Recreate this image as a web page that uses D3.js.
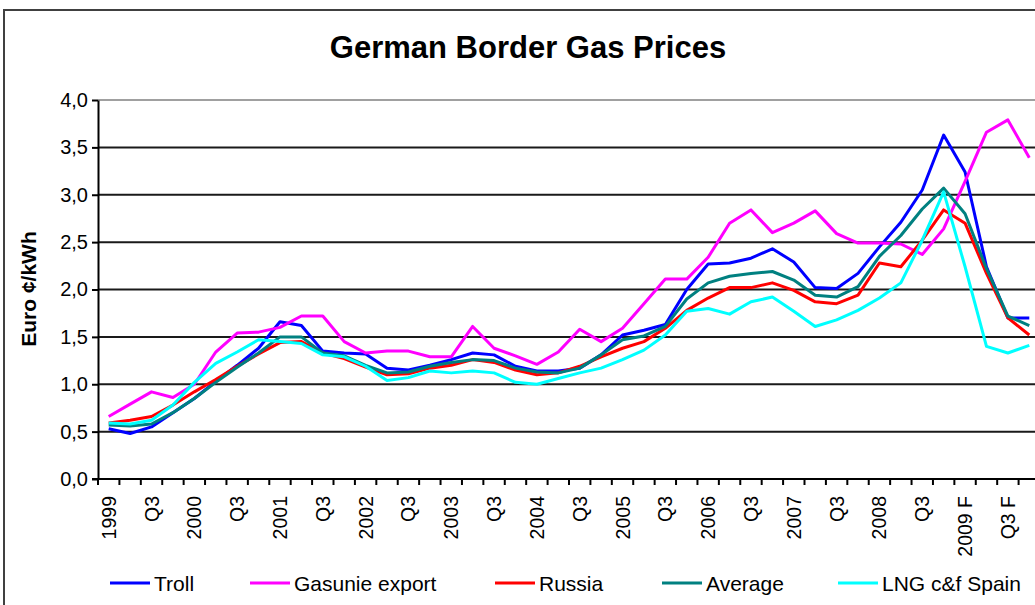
<!DOCTYPE html>
<html>
<head>
<meta charset="utf-8">
<script src="https://cdn.jsdelivr.net/npm/d3@7"></script>
<style>
  body { margin: 0; background: #fff; }
  svg { display: block; font-family: Arial, "Liberation Sans", sans-serif; }
</style>
</head>
<body>
<div id="chart"></div>
<script>
// quarters 1999 Q1 .. 2009 Q4 (F = forecast)
var quarters = [];
for (var yr = 1999; yr <= 2009; yr++) {
  for (var q = 1; q <= 4; q++) quarters.push(yr + " Q" + q);
}
// labels shown on every second quarter
var tickLabels = ["1999", "Q3", "2000", "Q3", "2001", "Q3", "2002", "Q3", "2003", "Q3", "2004", "Q3",
                  "2005", "Q3", "2006", "Q3", "2007", "Q3", "2008", "Q3", "2009 F", "Q3 F"];

var yTicks = [0, 0.5, 1, 1.5, 2, 2.5, 3, 3.5, 4];

var troll = [0.53, 0.48, 0.55, 0.70, 0.85, 1.03, 1.20, 1.38, 1.66, 1.62, 1.35, 1.33, 1.32, 1.17, 1.15, 1.20,
             1.26, 1.33, 1.31, 1.19, 1.14, 1.14, 1.17, 1.31, 1.52, 1.57, 1.63, 2.00, 2.27, 2.28, 2.33, 2.43,
             2.29, 2.02, 2.01, 2.17, 2.45, 2.71, 3.05, 3.63, 3.24, 2.24, 1.70, 1.70];
var gasunie = [0.66, 0.79, 0.92, 0.86, 1.00, 1.34, 1.54, 1.55, 1.60, 1.72, 1.72, 1.45, 1.33, 1.35, 1.35, 1.29,
               1.29, 1.61, 1.38, 1.30, 1.21, 1.34, 1.58, 1.45, 1.59, 1.85, 2.11, 2.11, 2.34, 2.70, 2.84, 2.60,
               2.70, 2.83, 2.59, 2.49, 2.49, 2.48, 2.37, 2.64, 3.14, 3.66, 3.79, 3.39];
var russia = [0.59, 0.62, 0.66, 0.78, 0.92, 1.05, 1.19, 1.32, 1.44, 1.45, 1.33, 1.27, 1.18, 1.10, 1.11, 1.17,
              1.20, 1.26, 1.23, 1.15, 1.10, 1.12, 1.19, 1.29, 1.38, 1.45, 1.59, 1.78, 1.91, 2.02, 2.02, 2.07,
              1.99, 1.87, 1.85, 1.94, 2.28, 2.24, 2.52, 2.84, 2.70, 2.17, 1.70, 1.52];
var average = [0.57, 0.56, 0.58, 0.70, 0.85, 1.02, 1.18, 1.33, 1.50, 1.50, 1.33, 1.30, 1.20, 1.12, 1.13, 1.19,
               1.23, 1.26, 1.25, 1.17, 1.13, 1.12, 1.17, 1.31, 1.47, 1.51, 1.61, 1.90, 2.07, 2.14, 2.17, 2.19,
               2.10, 1.94, 1.92, 2.03, 2.35, 2.57, 2.85, 3.07, 2.80, 2.22, 1.72, 1.62];
var lngSpain = [0.59, 0.58, 0.62, 0.78, 1.02, 1.22, 1.34, 1.47, 1.45, 1.43, 1.31, 1.29, 1.19, 1.04, 1.07, 1.14,
                1.12, 1.14, 1.12, 1.02, 1.00, 1.06, 1.12, 1.17, 1.26, 1.36, 1.52, 1.77, 1.80, 1.74, 1.87, 1.92,
                1.77, 1.61, 1.68, 1.78, 1.91, 2.07, 2.52, 3.03, 2.24, 1.40, 1.33, 1.41];

var seriesNames = ["Troll", "Gasunie export", "Russia", "Average", "LNG c&f Spain"];
var seriesColors = ["#0000ff", "#ff00ff", "#ff0000", "#008080", "#00ffff"];
var seriesValues = [troll, gasunie, russia, average, lngSpain];

var W = 1035, H = 605;
var plot = {left: 98, right: 1040, top: 100, bottom: 479};

var svg = d3.select("#chart").append("svg")
    .attr("width", W)
    .attr("height", H);

// chart frame (cropped on the right / bottom)
svg.append("path")
    .attr("d", "M4,1000 L4,10 L1100,10")
    .attr("fill", "none")
    .attr("stroke", "#404040")
    .attr("stroke-width", 2);

var x = d3.scaleBand()
    .domain(quarters)
    .range([plot.left, plot.right])
    .padding(0);

var y = d3.scaleLinear()
    .domain([0, 4])
    .range([plot.bottom, plot.top]);

// gridlines
svg.append("g")
  .selectAll("line")
  .data(yTicks.filter(d => d > 0))
  .enter().append("line")
    .attr("x1", plot.left)
    .attr("x2", plot.right)
    .attr("y1", d => y(d))
    .attr("y2", d => y(d))
    .attr("stroke", d => d === 4 ? "#a0a0a0" : "#1a1a1a")
    .attr("stroke-width", 2);

// y axis
var yAxis = svg.append("g")
    .attr("transform", "translate(" + plot.left + ",0)")
    .call(d3.axisLeft(y)
      .tickValues(yTicks)
      .tickSize(6)
      .tickSizeOuter(0)
      .tickPadding(4)
      .tickFormat(d => d3.format(".1f")(d).replace(".", ",")));
yAxis.select(".domain").attr("stroke", "#000").attr("stroke-width", 2);
yAxis.selectAll(".tick line").attr("stroke", "#000").attr("stroke-width", 2);
yAxis.selectAll("text")
    .attr("font-size", 20)
    .attr("font-family", "Arial, 'Liberation Sans', sans-serif")
    .attr("fill", "#000");

// x axis line + ticks at category borders
var bw = x.bandwidth();
svg.append("line")
    .attr("x1", plot.left - 6).attr("x2", plot.right)
    .attr("y1", plot.bottom).attr("y2", plot.bottom)
    .attr("stroke", "#000").attr("stroke-width", 2);

svg.append("g")
  .selectAll("line")
  .data(quarters)
  .enter().append("line")
    .attr("x1", d => x(d))
    .attr("x2", d => x(d))
    .attr("y1", plot.bottom)
    .attr("y2", plot.bottom + 6)
    .attr("stroke", "#000")
    .attr("stroke-width", 2);

svg.append("g")
  .selectAll("text")
  .data(tickLabels)
  .enter().append("text")
    .attr("transform", (d, i) => "translate(" + (x(quarters[i * 2]) + bw / 2) + "," + (plot.bottom + 17) + ") rotate(-90)")
    .attr("text-anchor", "end")
    .attr("dy", "0.36em")
    .attr("font-size", 19.5)
    .attr("fill", "#000")
    .text(d => d);

// lines
var line = d3.line()
    .x((d, i) => x(quarters[i]) + bw / 2)
    .y(d => y(d));

svg.append("g")
  .selectAll("path")
  .data(seriesValues)
  .enter().append("path")
    .attr("d", d => line(d))
    .attr("fill", "none")
    .attr("stroke", (d, i) => seriesColors[i])
    .attr("stroke-width", 3)
    .attr("stroke-linejoin", "round");

// title
svg.append("text")
    .attr("x", 528)
    .attr("y", 58)
    .attr("text-anchor", "middle")
    .attr("font-size", 31)
    .attr("font-weight", "bold")
    .text("German Border Gas Prices");

// y label
svg.append("text")
    .attr("transform", "translate(28,289) rotate(-90)")
    .attr("text-anchor", "middle")
    .attr("dy", "0.36em")
    .attr("font-size", 21)
    .attr("font-weight", "bold")
    .text("Euro ¢/kWh");

// legend
var legendX = [110, 250, 495, 662, 838];
var legend = svg.append("g")
  .selectAll("g")
  .data(seriesNames)
  .enter().append("g")
    .attr("transform", (d, i) => "translate(" + legendX[i] + ",583)");

legend.append("line")
    .attr("x1", 0).attr("x2", 40)
    .attr("stroke", (d, i) => seriesColors[i])
    .attr("stroke-width", 3);

legend.append("text")
    .attr("x", 44)
    .attr("dy", "0.36em")
    .attr("font-size", 21)
    .attr("fill", "#000")
    .text(d => d);
</script>
</body>
</html>
